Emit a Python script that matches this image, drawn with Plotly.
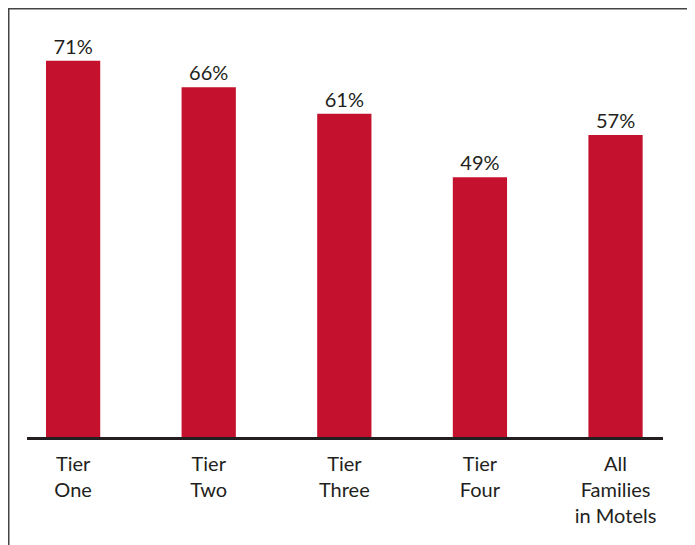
import plotly.graph_objects as go

categories = ["Tier<br>One", "Tier<br>Two", "Tier<br>Three", "Tier<br>Four", "All<br>Families<br>in Motels"]
values = [71, 66, 61, 49, 57]
labels = ["71%", "66%", "61%", "49%", "57%"]

# page body has an 8px margin, so figure coords = screen coords - 8
W, H = 687, 537
L, T = 19, 5
R = W - 655
B = H - 429
pw = W - L - R
ph = H - T - B

def px2x(px):
    return (px - L) / pw

def py2y(py):
    return (H - B - py) / ph

fig = go.Figure(go.Bar(
    x=categories, y=values, text=labels, textposition="outside",
    marker=dict(color="#C3112E", line=dict(width=0)),
    textfont=dict(size=20, color="#231F20", family="Lato"),
    cliponaxis=False,
))

fig.update_layout(
    width=W, height=H,
    margin=dict(l=L, r=R, t=T, b=B),
    paper_bgcolor="white", plot_bgcolor="white",
    bargap=0.6,
    showlegend=False,
    font=dict(family="Lato", size=20, color="#231F20"),
    xaxis=dict(range=[-0.34, 4.35], showline=True, linecolor="#231F20", linewidth=3,
               ticks="", showgrid=False, ticklabelstandoff=7,
               tickfont=dict(size=20, color="#231F20")),
    yaxis=dict(range=[0, 80], visible=False, showgrid=False),
    shapes=[
        dict(type="line", xref="paper", yref="paper", x0=px2x(0.75), x1=px2x(0.75),
             y0=py2y(0), y1=py2y(H + 5), line=dict(color="#444", width=1.5)),
        dict(type="line", xref="paper", yref="paper", x0=px2x(0), x1=px2x(W + 5),
             y0=py2y(0.75), y1=py2y(0.75), line=dict(color="#444", width=1.5)),
    ],
)

fig.write_html("out.html")
